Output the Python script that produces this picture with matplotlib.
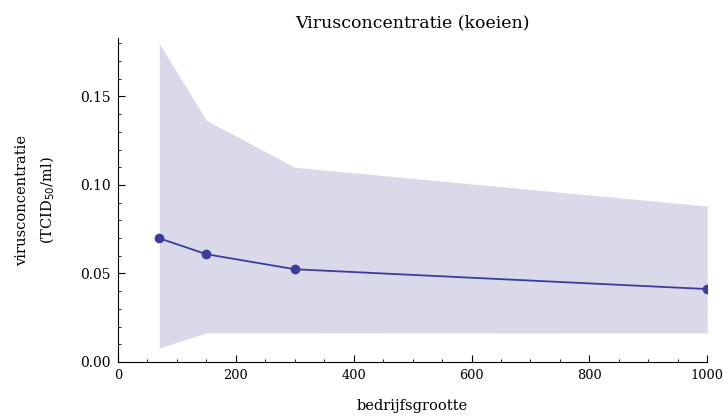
import matplotlib.pyplot as plt
from matplotlib.ticker import MultipleLocator

plt.rcParams['font.family'] = ['DejaVu Serif']

bedrijfsgrootte = [70, 150, 300, 1000]
gemiddelde = [0.0699, 0.0609, 0.0524, 0.0412]
bovengrens = [0.180, 0.1365, 0.110, 0.0881]
ondergrens = [0.0079, 0.0164, 0.0164, 0.0165]


def show_virus_plot():
    fig = plt.figure(figsize=(7.23, 4.18), dpi=100)
    ax = fig.add_axes([0.1632, 0.134, 0.815, 0.775])
    ax.fill_between(bedrijfsgrootte, ondergrens, bovengrens,
                    color="#d9d9ea", linewidth=0)
    ax.plot(bedrijfsgrootte, gemiddelde, color="#3c3c9c", linewidth=1.3,
            marker="o", markersize=6)
    ax.set_xlim(0, 1000)
    ax.set_ylim(0, 0.183)
    ax.spines["top"].set_visible(False)
    ax.spines["right"].set_visible(False)
    ax.xaxis.set_major_locator(MultipleLocator(200))
    ax.xaxis.set_minor_locator(MultipleLocator(50))
    ax.yaxis.set_major_locator(MultipleLocator(0.05))
    ax.yaxis.set_minor_locator(MultipleLocator(0.01))
    ax.yaxis.set_major_formatter(plt.FormatStrFormatter("%.2f"))
    ax.tick_params(which="both", direction="in", labelsize=10, pad=5)
    ax.tick_params(axis="x", labelsize=9.3)
    ax.tick_params(which="major", length=5)
    ax.tick_params(which="minor", length=2.5)
    ax.set_title("Virusconcentratie (koeien)", fontsize=12.5, pad=8)
    ax.set_xlabel("bedrijfsgrootte", fontsize=10.5, labelpad=12)
    ax.set_ylabel("virusconcentratie\n(TCID$_{50}$/ml)", fontsize=10.5,
                  labelpad=17, linespacing=1.7)
    fig.savefig("out.png", dpi=100)


if __name__ == '__main__':
    show_virus_plot()
